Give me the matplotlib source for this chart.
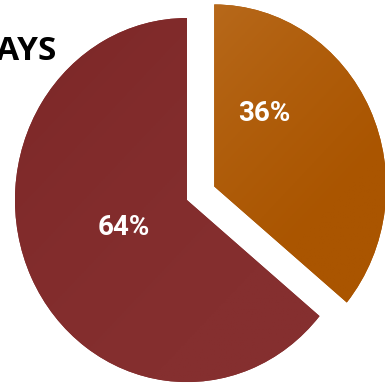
import matplotlib.pyplot as plt
import numpy as np
from matplotlib.colors import LinearSegmentedColormap

shares = [36, 64]
title = 'DAYS'
base_colors = ['#aa5500', '#852f2f']
edge_colors = ['#cd8a48', '#762121']
explode = [0.175, 0]

fig = plt.figure(figsize=(3.85, 3.87), dpi=100)
ax = fig.add_axes([0, 0, 1, 1])

wedges, texts, autotexts = ax.pie(
    shares, colors=base_colors, startangle=90, counterclock=False,
    explode=explode, autopct='%d%%',
    textprops=dict(color='white', fontsize=20, fontweight='bold',
                   family='Roboto'))

# the pie is drawn a little narrower than tall
ax.set_aspect('auto')
ax.axis('off')

# soft diagonal shading, light at the upper left of each slice
xx, yy = np.meshgrid(np.linspace(0, 1, 200), np.linspace(0, 1, 200))
for w, c0, c1, p in zip(wedges, edge_colors, base_colors, [0.45, 0.35]):
    cx, cy = w.center
    r = w.r
    t = np.clip((xx + (1 - yy)) / 1.4, 0, 1) ** p
    cmap = LinearSegmentedColormap.from_list('shade', [c0, c1])
    im = ax.imshow(t, cmap=cmap, origin='lower', aspect='auto',
                   extent=(cx - r, cx + r, cy - r, cy + r), zorder=w.get_zorder() + 0.1)
    im.set_clip_path(w)

for a in autotexts:
    a.set_zorder(5)
autotexts[0].set_position((0.45, 0.475))
autotexts[1].set_position((-0.37, -0.15))

ax.set_xlim(-1.087, 1.151)
ax.set_ylim(-1.027, 1.099)

fig.text(56 / 385, 1 - 60 / 387, title, ha='right', va='baseline',
         fontsize=24, fontweight='bold', family='Open Sans', color='black')

fig.savefig('out.png', dpi=100)
